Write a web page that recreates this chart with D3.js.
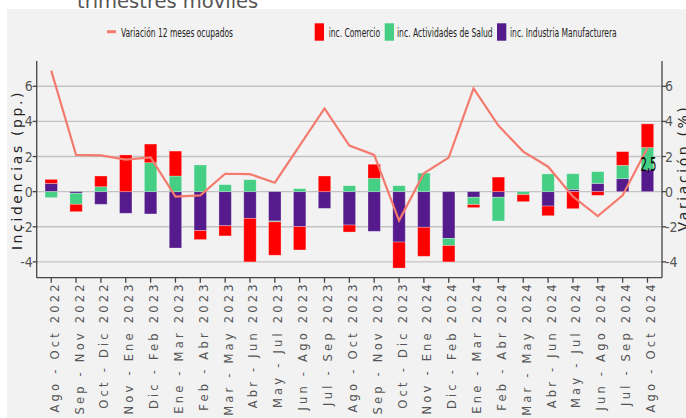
<!DOCTYPE html>
<html>
<head>
<meta charset="utf-8">
<script src="https://cdn.jsdelivr.net/npm/d3@7"></script>
<style>
  body { margin: 0; background: #fff; }
  svg { display: block; }
  .tick-num { font-family: "Liberation Sans Narrow", "DejaVu Sans Condensed", "Roboto Condensed", sans-serif; font-size: 14px; fill: #555; }
  .xlab { font-family: "DejaVu Sans", sans-serif; font-size: 11.5px; fill: #555; letter-spacing: 3.2px; }
  .axtitle { font-family: "DejaVu Sans", sans-serif; font-size: 14px; fill: #222; letter-spacing: 2.6px; }
  .leg { font-family: "Liberation Sans Narrow", "DejaVu Sans Condensed", sans-serif; font-size: 13px; fill: #222; }
</style>
</head>
<body>
<svg width="686" height="418"></svg>
<script>
// periodos (trimestres moviles)
let categories = [
  "Ago - Oct 2022", "Sep - Nov 2022", "Oct - Dic 2022", "Nov - Ene 2023", "Dic - Feb 2023",
  "Ene - Mar 2023", "Feb - Abr 2023", "Mar - May 2023", "Abr - Jun 2023", "May - Jul 2023",
  "Jun - Ago 2023", "Jul - Sep 2023", "Ago - Oct 2023", "Sep - Nov 2023", "Oct - Dic 2023",
  "Nov - Ene 2024", "Dic - Feb 2024", "Ene - Mar 2024", "Feb - Abr 2024", "Mar - May 2024",
  "Abr - Jun 2024", "May - Jul 2024", "Jun - Ago 2024", "Jul - Sep 2024", "Ago - Oct 2024"
];

// incidencias (pp.)
let industria = [0.47, -0.09, -0.72, -1.23, -1.27, -3.21, -2.22, -1.94, -1.52, -1.67,
                 -1.99, -0.95, -1.90, -2.26, -2.87, -2.03, -2.66, -0.32, -0.32, 0.00,
                 -0.82, 0.13, 0.47, 0.74, 1.24];
let salud = [-0.34, -0.63, 0.28, 0.00, 1.65, 0.89, 1.52, 0.40, 0.68, -0.05,
             0.17, 0.00, 0.34, 0.76, 0.34, 1.06, -0.41, -0.42, -1.35, -0.17,
             1.01, 0.89, 0.67, 0.76, 1.27];
let comercio = [0.23, -0.42, 0.61, 2.09, 1.06, 1.42, -0.51, -0.58, -2.48, -1.90,
                -1.33, 0.89, -0.40, 0.80, -1.48, -1.65, -0.93, -0.17, 0.83, -0.40,
                -0.55, -0.97, -0.21, 0.78, 1.35];

// variacion 12 meses ocupados (%)
let variacion = [6.89, 2.09, 2.07, 1.82, 1.95, -0.28, -0.21, 1.02, 1.00, 0.51,
                 2.62, 4.74, 2.62, 2.09, -1.65, 1.04, 1.94, 5.88, 3.76, 2.28,
                 1.42, -0.28, -1.39, -0.21, 2.48];

let yTicks = [-4, -2, 0, 2, 4, 6];

let keys = ["industria", "salud", "comercio"];
let colors = {industria: "#551b8c", salud: "#45cf84", comercio: "#ff0000"};
let lineColor = "#f47a6e";

let rows = categories.map(function(c, i) {
    return {cat: c, industria: industria[i], salud: salud[i], comercio: comercio[i]};
});

let svg = d3.select("svg");

// panel background
svg.append("rect").attr("x", 7).attr("y", 9).attr("width", 679).attr("height", 409).attr("fill", "#f2f2f2");

// title, mostly cut off at the top
svg.append("text")
    .attr("x", 77).attr("y", 8)
    .style("font-family", "DejaVu Sans, sans-serif").style("font-size", "19.5px").style("fill", "#555")
    .text("trimestres móviles");

let pLeft = 36.7, pRight = 662, pTop = 61, pBottom = 277.7;

let x = d3.scaleBand().domain(categories).range([pLeft, pRight]).paddingInner(0).paddingOuter(0.085);
let y = d3.scaleLinear().domain([-4.9, 7.44]).range([pBottom, pTop]);
let bw = x.bandwidth() * 0.5;
let cx = function(c) { return x(c) + x.bandwidth() / 2; };

// grid
svg.append("g").selectAll("line").data(yTicks).enter().append("line")
    .attr("x1", pLeft).attr("x2", pRight)
    .attr("y1", d => y(d)).attr("y2", d => y(d))
    .attr("stroke", "#c2c2c2").attr("stroke-width", 1.4);

// stacked bars
let series = d3.stack().keys(keys).offset(d3.stackOffsetDiverging)(rows);

svg.append("g").selectAll("g").data(series).enter().append("g")
    .attr("fill", d => colors[d.key])
    .selectAll("rect").data(d => d).enter().append("rect")
    .attr("x", d => cx(d.data.cat) - bw / 2)
    .attr("width", bw)
    .attr("y", d => y(Math.max(d[0], d[1])))
    .attr("height", d => Math.abs(y(d[0]) - y(d[1])))
    .attr("stroke", "rgba(255,255,255,0.35)").attr("stroke-width", 0.8);

// line
let line = d3.line().x((d, i) => cx(categories[i])).y(d => y(d));
svg.append("path").datum(variacion)
    .attr("d", line).attr("fill", "none")
    .attr("stroke", lineColor).attr("stroke-width", 2.2);

// axes
let axisG = svg.append("g").attr("stroke", "#444").attr("stroke-width", 1.3);
axisG.append("line").attr("x1", pLeft).attr("x2", pLeft).attr("y1", pTop).attr("y2", pBottom);
axisG.append("line").attr("x1", pRight).attr("x2", pRight).attr("y1", pTop).attr("y2", pBottom);
axisG.append("line").attr("x1", pLeft).attr("x2", pRight).attr("y1", pBottom).attr("y2", pBottom);

yTicks.forEach(function(t) {
    axisG.append("line").attr("x1", pLeft - 4).attr("x2", pLeft).attr("y1", y(t)).attr("y2", y(t));
    axisG.append("line").attr("x1", pRight).attr("x2", pRight + 4).attr("y1", y(t)).attr("y2", y(t));
    svg.append("text").attr("class", "tick-num")
        .attr("x", pLeft - 4).attr("y", y(t)).attr("dy", "0.36em")
        .attr("text-anchor", "end").text(t);
    svg.append("text").attr("class", "tick-num")
        .attr("x", pRight + 3).attr("y", y(t)).attr("dy", "0.36em")
        .attr("text-anchor", "start").text(t);
});

categories.forEach(function(c) {
    axisG.append("line").attr("x1", cx(c)).attr("x2", cx(c)).attr("y1", pBottom).attr("y2", pBottom + 5);
    svg.append("text").attr("class", "xlab")
        .attr("transform", "translate(" + (cx(c) + 7.5) + "," + (pBottom + 3.5) + ") rotate(-90)")
        .attr("text-anchor", "end")
        .text(c);
});

// axis titles
svg.append("text").attr("class", "axtitle")
    .attr("transform", "translate(22," + 170 + ") rotate(-90)")
    .attr("text-anchor", "middle")
    .text("Incidencias (pp.)");
svg.append("text").attr("class", "axtitle")
    .attr("transform", "translate(688," + 168 + ") rotate(-90)")
    .attr("text-anchor", "middle")
    .text("Variación (%)");

// last value label
let last = variacion.length - 1;
svg.append("text")
    .attr("x", cx(categories[last]) + 1).attr("y", 170.7)
    .attr("text-anchor", "middle")
    .attr("textLength", 16).attr("lengthAdjust", "spacingAndGlyphs")
    .style("font-family", "Liberation Sans Narrow, DejaVu Sans Condensed, sans-serif")
    .style("font-size", "19px").style("fill", "#000")
    .text(d3.format(".1f")(variacion[last]).replace(".", ","));

// legend
let leg = svg.append("g");
leg.append("line").attr("x1", 107).attr("x2", 116).attr("y1", 31.7).attr("y2", 31.7)
    .attr("stroke", lineColor).attr("stroke-width", 3);
leg.append("text").attr("class", "leg").attr("x", 121).attr("y", 36.5)
    .attr("textLength", 112).attr("lengthAdjust", "spacingAndGlyphs")
    .text("Variación 12 meses ocupados");

let legItems = [
    {key: "comercio", label: "inc. Comercio", sx: 314.7, tx: 328.7, tw: 51.3},
    {key: "salud", label: "inc. Actividades de Salud", sx: 384.7, tx: 397, tw: 95.7},
    {key: "industria", label: "inc. Industria Manufacturera", sx: 497, tx: 510, tw: 106.7}
];
legItems.forEach(function(it) {
    leg.append("rect").attr("x", it.sx).attr("y", 23.3).attr("width", 9.3).attr("height", 17.4)
        .attr("fill", colors[it.key]);
    leg.append("text").attr("class", "leg").attr("x", it.tx).attr("y", 36.5)
        .attr("textLength", it.tw).attr("lengthAdjust", "spacingAndGlyphs")
        .text(it.label);
});
</script>
</body>
</html>
